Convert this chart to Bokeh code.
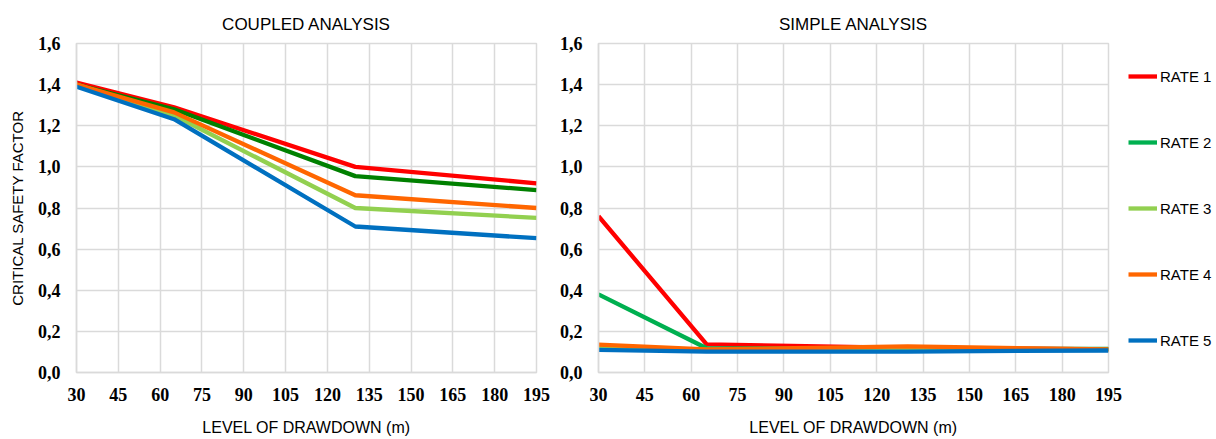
from bokeh.plotting import figure
from bokeh.layouts import row
from bokeh.models import Range1d, FixedTicker, CustomJSTickFormatter, Legend, LegendItem
from bokeh.embed import file_html
from bokeh.resources import INLINE

# Drawdown levels (m) at which the safety factor was evaluated
drawdown = [30, 65, 130, 195]

# Coupled analysis: critical safety factor per pumping rate
coupled_rate1 = [1.41, 1.29, 1.00, 0.92]
coupled_rate2 = [1.40, 1.28, 0.955, 0.887]
coupled_rate3 = [1.40, 1.25, 0.80, 0.752]
coupled_rate4 = [1.40, 1.265, 0.862, 0.80]
coupled_rate5 = [1.39, 1.232, 0.71, 0.653]

# Simple analysis: critical safety factor per pumping rate
simple_rate1 = [0.76, 0.137, 0.12, 0.112]
simple_rate2 = [0.38, 0.118, 0.115, 0.115]
simple_rate3 = [0.122, 0.11, 0.115, 0.11]
simple_rate4 = [0.136, 0.112, 0.127, 0.112]
simple_rate5 = [0.11, 0.102, 0.102, 0.107]

rate_names = ["RATE 1", "RATE 2", "RATE 3", "RATE 4", "RATE 5"]
x_ticks = [30, 45, 60, 75, 90, 105, 120, 135, 150, 165, 180, 195]
y_ticks = [0.0, 0.2, 0.4, 0.6, 0.8, 1.0, 1.2, 1.4, 1.6]

coupled_colors = ["#FF0000", "#008000", "#92D050", "#FF6600", "#0070C0"]
simple_colors = ["#FF0000", "#00B050", "#92D050", "#FF6600", "#0070C0"]

GRID = "#DADADA"
TICK_FONT = "Liberation Serif"
TEXT_FONT = "Liberation Sans"
LINE_W = 4.3


def make_panel(title, frame_w, border_left, border_right, y_label):
    p = figure(
        frame_width=frame_w, frame_height=329,
        min_border_left=border_left, min_border_right=border_right,
        min_border_top=43, min_border_bottom=67,
        x_range=Range1d(30, 195), y_range=Range1d(0, 1.6),
        output_backend="svg", toolbar_location=None,
        title=title,
    )
    p.title.align = "center"
    p.title.text_font = TEXT_FONT
    p.title.text_font_size = "17px"
    p.title.text_font_style = "normal"
    p.title.text_color = "#000000"
    p.title.standoff = 20

    p.outline_line_color = GRID
    p.outline_line_width = 1.5
    p.background_fill_color = "white"
    p.border_fill_color = "white"

    p.xaxis.ticker = FixedTicker(ticks=x_ticks)
    p.yaxis.ticker = FixedTicker(ticks=y_ticks)
    p.yaxis.formatter = CustomJSTickFormatter(
        code="return tick.toFixed(1).replace('.', ',');")

    for ax in (p.xaxis[0], p.yaxis[0]):
        ax.axis_line_color = GRID
        ax.axis_line_width = 1.5
        ax.major_tick_line_color = None
        ax.minor_tick_line_color = None
        ax.major_tick_out = 0
        ax.major_tick_in = 0
        ax.major_label_text_font = TICK_FONT
        ax.major_label_text_font_style = "bold"
        ax.major_label_text_font_size = "18px"
        ax.major_label_text_color = "#000000"
        ax.axis_label_text_font = TEXT_FONT
        ax.axis_label_text_font_style = "normal"
        ax.axis_label_text_color = "#000000"

    p.xaxis.major_label_standoff = 15
    p.yaxis.major_label_standoff = 16
    p.xaxis.axis_label = "LEVEL OF DRAWDOWN (m)"
    p.xaxis.axis_label_text_font_size = "16px"
    p.xaxis.axis_label_standoff = 15
    if y_label:
        p.yaxis.axis_label = y_label
        p.yaxis.axis_label_text_font_size = "15px"
        p.yaxis.axis_label_standoff = 9

    p.xgrid.grid_line_color = GRID
    p.ygrid.grid_line_color = GRID
    p.xgrid.grid_line_width = 1.5
    p.ygrid.grid_line_width = 1.5
    return p


left = make_panel("COUPLED ANALYSIS", 460, 76, 20, "CRITICAL SAFETY FACTOR")
right = make_panel("SIMPLE ANALYSIS", 510, 40, 18, None)

coupled = [coupled_rate1, coupled_rate2, coupled_rate3, coupled_rate4, coupled_rate5]
simple = [simple_rate1, simple_rate2, simple_rate3, simple_rate4, simple_rate5]

for vals, color in zip(coupled, coupled_colors):
    left.line(drawdown, vals, line_color=color, line_width=LINE_W, line_join="round")

for vals, color in zip(simple, simple_colors):
    right.line(drawdown, vals, line_color=color, line_width=LINE_W, line_join="round")

# Legend strip to the right of the simple-analysis panel; its own ranges keep
# the series out of view so only the legend keys are shown.
key = figure(
    width=92, height=439, min_border=0,
    x_range=Range1d(0, 1), y_range=Range1d(0, 1),
    output_backend="svg", toolbar_location=None,
)
key.axis.visible = False
key.grid.visible = False
key.outline_line_color = None

items = []
for vals, color, name in zip(simple, simple_colors, rate_names):
    r = key.line(drawdown, vals, line_color=color, line_width=LINE_W)
    items.append(LegendItem(label=name, renderers=[r]))

legend = Legend(
    items=items, location=(2, 22), orientation="vertical",
    spacing=46, glyph_width=29, glyph_height=20, label_height=20,
    label_standoff=3, padding=0, margin=0,
    label_text_font=TEXT_FONT, label_text_font_size="15px",
    label_text_color="#000000",
    border_line_alpha=0, background_fill_alpha=0,
)
key.add_layout(legend, "center")

page = row(left, right, key)
open("out.html", "w").write(file_html(page, INLINE))
